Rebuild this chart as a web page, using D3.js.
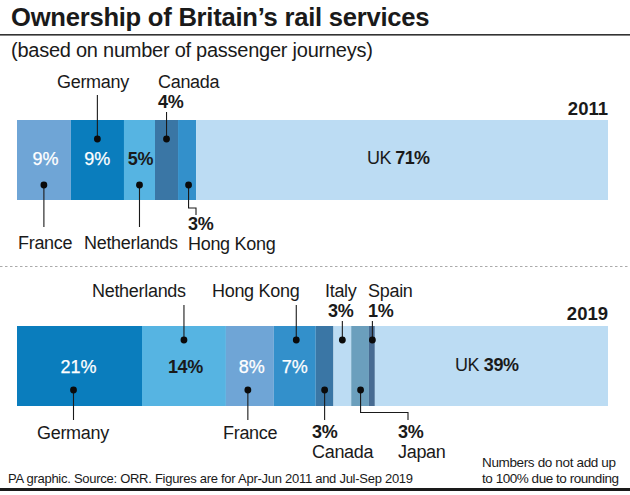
<!DOCTYPE html>
<html><head><meta charset="utf-8">
<script src="https://cdn.jsdelivr.net/npm/d3@7"></script>
<style>html,body{margin:0;padding:0;background:#fff}svg{display:block}text{font-family:"Liberation Sans",Arial,sans-serif;fill:#1a1a1a}</style>
</head><body><svg id="c" width="630" height="495"></svg>
<script>
// data
const countries2011 = ["France","Germany","Netherlands","Canada","Hong Kong","UK"];
const shares2011 = [9.1,9.0,5.25,3.9,3.05,69.7];
const labels2011 = ["9%","9%","5%","4%","3%","71%"];
const countries2019 = ["Germany","Netherlands","France","Hong Kong","Canada","Italy","Japan","Spain","UK"];
const shares2019 = [21.15,14.2,8.1,7.1,3.0,3.0,3.0,1.0,39.45];
const labels2019 = ["21%","14%","8%","7%","3%","3%","3%","1%","39%"];

const colour = {France:"#6fa5d6",Germany:"#0a7dbd",Netherlands:"#56b4e2",Canada:"#3a76a5","Hong Kong":"#3390cb",UK:"#bcdcf3",Italy:"#bcdcf3",Japan:"#6b9fbd",Spain:"#476b92"};
const svg = d3.select("#c");
const x = d3.scaleLinear().domain([0,100]).range([17,608]);
const y = d3.scalePoint().domain(["2011","2019"]).range([120,326]);
const barH = 80;
const LS=-0.3;
function txt(s,tx,ty,size,weight,anchor,ls,fill){
  const t = svg.append("text").attr("x",tx).attr("y",ty).attr("font-size",size).attr("font-weight",weight||400).attr("text-anchor",anchor||"start").attr("letter-spacing",ls===undefined?LS:ls).text(s);
  if(fill) t.style("fill",fill).style("stroke",fill).style("stroke-width",0.25);
  return t;
}
txt("Ownership of Britain’s rail services",11,26,25.6,700,"start",-0.25);
svg.append("rect").attr("x",0).attr("y",34).attr("width",630).attr("height",1.6).attr("fill","#333");
txt("(based on number of passenger journeys)",11,57,20,400,"start",-0.25);
svg.append("line").attr("x1",0).attr("x2",630).attr("y1",266.5).attr("y2",266.5).attr("stroke","#aaa").attr("stroke-dasharray","2.5 2.5");
svg.append("rect").attr("x",0).attr("y",488).attr("width",630).attr("height",3).attr("fill","#1a1a1a");

function bar(year,names,shares){
  const starts = d3.cumsum([0,...shares]);
  const seg = {};
  names.forEach((n,i)=>{
    seg[n]={m:x(starts[i]+shares[i]/2)};
    svg.append("rect").attr("x",x(starts[i])).attr("y",y(year)).attr("height",barH)
      .attr("width",x(starts[i]+shares[i])-x(starts[i])).attr("fill",colour[n]);
  });
  return seg;
}
const s11 = bar("2011",countries2011,shares2011);
const s19 = bar("2019",countries2019,shares2019);
txt("2011",608,115,18.5,700,"end",0);
txt("2019",608,320,18.5,700,"end",0);

function leader(path,dx,dy){
  svg.append("path").attr("d",d3.line()(path)).attr("fill","none").attr("stroke","#1a1a1a").attr("stroke-width",1.1);
  svg.append("circle").attr("cx",dx).attr("cy",dy).attr("r",3.4).attr("fill","#0a0a0a");
}
const T11=y("2011")+19, B11=y("2011")+65, T19=y("2019")+14, B19=y("2019")+64;
let m;
m=s11.France.m; leader([[m,B11],[m,227]],m,B11);
m=s11.Germany.m; leader([[m,T11],[m,95]],m,T11);
m=s11.Netherlands.m; leader([[m,B11],[m,227]],m,B11);
m=s11.Canada.m; leader([[m,T11],[m,112]],m,T11);
m=s11["Hong Kong"].m+1.5; leader([[m,B11],[m,208],[196,208],[196,215]],m,B11);
m=s19.Germany.m-6; leader([[m,B19],[m,420]],m,B19);
m=s19.Netherlands.m; leader([[m,T19],[m,305]],m,T19);
m=s19.France.m-2; leader([[m,B19],[m,420]],m,B19);
m=s19["Hong Kong"].m+1.5; leader([[m,T19],[m,305]],m,T19);
m=s19.Canada.m; leader([[m,B19],[m,420]],m,B19);
m=s19.Italy.m; leader([[m,T19],[m,321]],m,T19);
m=s19.Spain.m+0.5; leader([[m,T19],[m,321]],m,T19);
m=s19.Japan.m+0.5; leader([[m,B19],[m,412.5],[408,412.5],[408,420]],m,B19);

const W="#fff", F=18;
txt(labels2011[0],s11.France.m+1.5,165,F,400,"middle",0,W);
txt(labels2011[1],s11.Germany.m,165,F,400,"middle",0,W);
txt(labels2011[2],s11.Netherlands.m+1,165,F,700,"middle",-0.2);
txt("France",18,249,F);
txt("Germany",57,88,F);
txt("Netherlands",84,249,F);
txt("Canada",158,88,F);
txt(labels2011[3],158,108,F,700);
txt(labels2011[4],188,230,F,700);
txt("Hong Kong",188,250,F);
const uk11=txt("UK ",367,164,F,400,"start",-0.6);
uk11.append("tspan").attr("font-weight",700).text(labels2011[5]);
txt(labels2019[0],s19.Germany.m-1,373,F,400,"middle",0,W);
txt(labels2019[1],s19.Netherlands.m+1.5,373,F,700,"middle");
txt(labels2019[2],s19.France.m+2,373,F,400,"middle",0,W);
txt(labels2019[3],s19["Hong Kong"].m,373,F,400,"middle",0,W);
txt("Germany",37,439,F);
txt("Netherlands",92,297,F);
txt("France",223,439,F);
txt("Hong Kong",212,297,F);
txt(labels2019[4],312,438,F,700);
txt("Canada",312,458,F);
txt("Italy",325,297,F);
txt(labels2019[5],328,317,F,700);
txt("Spain",368,297,F);
txt(labels2019[7],368,317,F,700);
txt(labels2019[6],398,438,F,700);
txt("Japan",398,458,F);
const uk19=txt("UK ",455,371,F,400,"start",-0.4);
uk19.append("tspan").attr("font-weight",700).text(labels2019[8]);
txt("PA graphic. Source: ORR. Figures are for Apr-Jun 2011 and Jul-Sep 2019",8,483,13,400,"start",-0.27);
txt("Numbers do not add up",482,467,13.5,400,"start",0).attr("textLength",134);
txt("to 100% due to rounding",482,483,13.5,400,"start",0).attr("textLength",137);
</script></body></html>
